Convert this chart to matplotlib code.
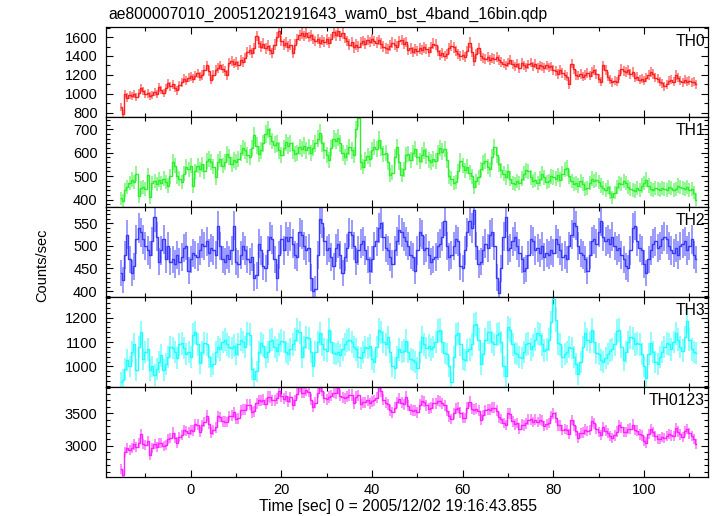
import numpy as np
import matplotlib
matplotlib.use("Agg")
import matplotlib.pyplot as plt
from matplotlib.ticker import MultipleLocator

title = "ae800007010_20051202191643_wam0_bst_4band_16bin.qdp"
xlabel = "Time [sec] 0 = 2005/12/02 19:16:43.855"
ylabel = "Counts/sec"
band_names = ["TH0", "TH1", "TH2", "TH3", "TH0123"]
t_start = -15.5
bin_width = 0.5

th0 = [
    860, 790, 1000, 960, 990, 975, 1000, 965, 1010, 1060, 1030, 1000, 1005, 975, 990, 1020, 1000, 1070, 1040, 1010,
    1060, 1110, 1080, 1100, 1060, 1035, 1090, 1120, 1160, 1140, 1170, 1185, 1160, 1190, 1215, 1180, 1200, 1250, 1300, 1240,
    1150, 1200, 1250, 1270, 1300, 1265, 1240, 1200, 1330, 1350, 1320, 1340, 1300, 1360, 1340, 1380, 1440, 1460, 1430, 1480,
    1610, 1540, 1500, 1530, 1480, 1510, 1460, 1430, 1520, 1600, 1660, 1560, 1520, 1540, 1500, 1520, 1430, 1520, 1580, 1620,
    1640, 1610, 1640, 1600, 1620, 1580, 1560, 1580, 1540, 1570, 1550, 1575, 1540, 1580, 1650, 1620, 1660, 1610, 1640, 1590,
    1560, 1520, 1550, 1490, 1520, 1500, 1540, 1560, 1530, 1570, 1550, 1580, 1560, 1540, 1570, 1530, 1500, 1480, 1470, 1510,
    1540, 1520, 1500, 1560, 1570, 1530, 1550, 1460, 1480, 1440, 1470, 1450, 1480, 1460, 1490, 1470, 1440, 1490, 1530, 1520,
    1450, 1410, 1430, 1400, 1420, 1480, 1510, 1490, 1450, 1420, 1400, 1410, 1390, 1450, 1540, 1440, 1350, 1420, 1480, 1400,
    1380, 1370, 1390, 1360, 1380, 1370, 1390, 1360, 1340, 1320, 1300, 1330, 1360, 1310, 1290, 1320, 1270, 1330, 1300, 1280,
    1310, 1330, 1290, 1320, 1270, 1300, 1290, 1270, 1300, 1280, 1290, 1250, 1240, 1210, 1250, 1220, 1200, 1180, 1100, 1320,
    1260, 1200, 1190, 1210, 1180, 1200, 1220, 1190, 1230, 1250, 1210, 1160, 1130, 1300, 1250, 1180, 1150, 1120, 1140, 1130,
    1200, 1260, 1240, 1230, 1250, 1210, 1230, 1170, 1180, 1150, 1160, 1140, 1170, 1200, 1230, 1210, 1170, 1160, 1130, 1110,
    1080, 1100, 1140, 1150, 1130, 1200, 1170, 1140, 1120, 1150, 1130, 1140, 1120, 1130, 1100,
]

th1 = [
    405, 395, 440, 455, 470, 485, 475, 510, 415, 450, 455, 445, 505, 410, 470, 480, 465, 485, 470, 490,
    475, 460, 500, 560, 545, 500, 490, 475, 510, 540, 530, 545, 460, 520, 545, 530, 550, 520, 565, 575,
    560, 540, 495, 560, 575, 545, 560, 595, 580, 550, 570, 560, 575, 600, 620, 610, 590, 580, 620, 675,
    630, 595, 610, 640, 680, 700, 670, 650, 635, 640, 610, 590, 620, 645, 630, 640, 610, 595, 600, 625,
    615, 630, 610, 625, 600, 620, 640, 660, 685, 640, 610, 590, 570, 620, 660, 650, 665, 640, 600, 580,
    600, 625, 610, 590, 700, 750, 560, 540, 570, 585, 575, 610, 625, 615, 655, 620, 595, 600, 560, 505,
    515, 580, 625, 560, 505, 530, 590, 595, 570, 600, 615, 580, 565, 590, 610, 585, 570, 560, 575, 565,
    600, 620, 605, 615, 570, 500, 490, 470, 475, 520, 565, 545, 525, 540, 515, 500, 455, 480, 495, 530,
    555, 565, 540, 530, 580, 625, 590, 550, 525, 510, 495, 520, 490, 470, 465, 480, 470, 490, 510, 525,
    520, 495, 480, 485, 470, 490, 510, 495, 475, 480, 500, 495, 490, 505, 485, 510, 530, 535, 500, 480,
    465, 470, 460, 480, 465, 445, 450, 470, 490, 480, 485, 475, 460, 450, 440, 455, 430, 410, 430, 455,
    470, 465, 480, 470, 455, 445, 440, 435, 450, 440, 460, 470, 485, 460, 445, 440, 450, 445, 440, 450,
    445, 440, 455, 450, 440, 445, 460, 455, 450, 445, 455, 440, 445, 430, 400,
]

th2 = [
    440, 425, 480, 525, 470, 440, 455, 515, 540, 530, 515, 500, 490, 480, 510, 565, 520, 465, 490, 515,
    470, 500, 465, 470, 460, 480, 465, 475, 495, 500, 445, 470, 485, 480, 475, 490, 505, 500, 510, 485,
    495, 490, 480, 545, 500, 470, 465, 480, 470, 490, 545, 465, 460, 480, 500, 490, 470, 465, 475, 430,
    435, 505, 490, 455, 450, 490, 520, 515, 470, 430, 480, 515, 490, 520, 510, 520, 505, 480, 475, 530,
    525, 500, 490, 495, 430, 400, 405, 480, 560, 550, 510, 490, 495, 475, 455, 495, 505, 480, 440, 475,
    495, 530, 525, 500, 465, 490, 505, 510, 490, 470, 445, 470, 500, 510, 540, 550, 520, 495, 490, 475,
    460, 490, 510, 535, 530, 520, 510, 500, 480, 475, 445, 490, 530, 525, 490, 495, 480, 465, 470, 475,
    500, 505, 520, 555, 500, 475, 480, 500, 515, 510, 455, 450, 490, 530, 555, 540, 580, 500, 460, 465,
    490, 505, 495, 525, 530, 500, 430, 395, 450, 520, 565, 490, 495, 510, 520, 500, 485, 470, 445, 450,
    480, 515, 510, 490, 495, 485, 500, 475, 485, 480, 490, 485, 515, 505, 490, 475, 480, 470, 500, 525,
    550, 545, 500, 485, 480, 470, 445, 480, 510, 515, 505, 530, 555, 520, 510, 515, 505, 520, 500, 490,
    495, 480, 470, 455, 450, 490, 540, 545, 510, 495, 490, 460, 440, 470, 490, 505, 510, 495, 500, 515,
    520, 515, 500, 490, 485, 495, 480, 500, 505, 510, 490, 500, 515, 480, 470,
]

th3 = [
    935, 945, 990, 1025, 1000, 1060, 1090, 985, 1080, 1140, 1030, 1060, 1070, 985, 1000, 965, 990, 1020, 1045, 985,
    1010, 1040, 1080, 1075, 1060, 1035, 1090, 1095, 1075, 1050, 1060, 1040, 1130, 1140, 1090, 1015, 1060, 1095, 1090, 1040,
    1000, 1010, 1060, 1080, 1070, 1100, 1110, 1090, 1080, 1075, 1085, 1050, 1090, 1110, 1100, 1080, 1135, 1130, 990, 950,
    980, 1060, 1095, 1085, 1040, 1060, 1105, 1110, 1080, 1065, 1090, 1105, 1100, 1060, 1050, 1070, 1090, 1110, 1150, 1140,
    1040, 1080, 1120, 1115, 1060, 1000, 1060, 1100, 1135, 1090, 1070, 1065, 1150, 1100, 1055, 1050, 1060, 1045, 1070, 1090,
    1105, 1110, 1100, 1080, 1070, 1040, 1035, 1060, 1080, 1075, 1085, 1030, 1020, 1080, 1150, 1140, 1100, 1090, 1120, 1060,
    1000, 995, 1040, 1070, 1060, 1065, 1105, 1060, 1030, 1025, 1020, 995, 1060, 1120, 1090, 1075, 1085, 1070, 1080, 1100,
    1145, 1150, 1100, 1055, 1050, 1000, 935, 1040, 1130, 1135, 1090, 1030, 1025, 1065, 1070, 1090, 1170, 1175, 1110, 1010,
    1050, 1110, 1140, 1140, 1100, 1090, 1130, 1135, 1100, 1000, 960, 1160, 1150, 1090, 1055, 1050, 1040, 1035, 1060, 1090,
    1095, 1070, 1085, 1110, 1135, 1130, 1090, 1065, 1070, 1110, 1180, 1275, 1190, 1095, 1090, 1040, 1050, 1060, 1080, 1075,
    1040, 1010, 970, 1020, 1080, 1135, 1110, 1100, 1150, 1100, 1055, 1050, 1025, 1020, 1035, 1050, 1065, 1070, 1090, 1145,
    1150, 1080, 1025, 1060, 1100, 1120, 1115, 1090, 1095, 1090, 1050, 1000, 955, 1050, 1095, 1060, 1020, 1010, 1040, 1060,
    1080, 1095, 1090, 1070, 1100, 1135, 1110, 1080, 1065, 1120, 1185, 1110, 1070, 1060, 1055,
]

# TH0123 is the sum of the four bands
th0123 = list(np.array(th0) + np.array(th1) + np.array(th2) + np.array(th3))

series = [th0, th1, th2, th3, th0123]
colors = ["#ff2020", "#2cf02c", "#3a3aff", "#22ffff", "#ff22ff"]
ylims = [(753, 1703), (368, 752), (387, 586), (917, 1284), (2522, 3911)]
major_steps = [200, 100, 50, 100, 500]
minor_steps = [100, 20, 10, 20, 100]
xlim = (-18.7, 114.1)

plt.rcParams["font.family"] = ["Liberation Sans", "DejaVu Sans"]

fig = plt.figure(figsize=(7.17, 5.16), dpi=100)
gs = fig.add_gridspec(5, 1, left=106 / 717, right=708 / 717,
                      top=1 - 27.3 / 516, bottom=1 - 476.7 / 516, hspace=0)
axes = []
for i in range(5):
    ax = fig.add_subplot(gs[i], sharex=axes[0] if axes else None)
    axes.append(ax)

for ax, name, vals, c, yl, mj, mn in zip(axes, band_names, series, colors,
                                         ylims, major_steps, minor_steps):
    y = np.array(vals, dtype=float)
    t = t_start + bin_width * np.arange(len(y))
    err = np.sqrt(y / bin_width)
    ax.errorbar(t, y, yerr=err, fmt="none", ecolor=c, elinewidth=1.3, alpha=0.55)
    ax.step(t, y, where="mid", color=c, lw=1.0)
    ax.set_ylim(*yl)
    ax.set_xlim(*xlim)
    ax.yaxis.set_major_locator(MultipleLocator(mj))
    ax.yaxis.set_minor_locator(MultipleLocator(mn))
    ax.xaxis.set_major_locator(MultipleLocator(20))
    ax.xaxis.set_minor_locator(MultipleLocator(10))
    ax.tick_params(which="both", direction="in", top=True, right=True,
                   labelsize=10.5, width=0.8)
    ax.tick_params(which="major", length=5)
    ax.tick_params(axis="y", which="major", pad=6)
    ax.tick_params(axis="x", which="major", pad=4.5)
    ax.tick_params(which="minor", length=2.7)
    for s in ax.spines.values():
        s.set_linewidth(0.9)
    ax.text(0.995, 0.93, name, transform=ax.transAxes, ha="right", va="top",
            fontsize=11.3)
    if ax is not axes[-1]:
        ax.tick_params(labelbottom=False)

fig.text(398 / 717, 1 - 506 / 516, xlabel, ha="center",
         va="center", fontsize=11.3)
fig.text(108 / 717, 1 - 14 / 516, title, ha="left", va="center", fontsize=11.3)
fig.text(42 / 717, 1 - 265 / 516, ylabel, rotation=90, ha="center", va="center",
         fontsize=10.5)

fig.savefig("out.png", dpi=100)
